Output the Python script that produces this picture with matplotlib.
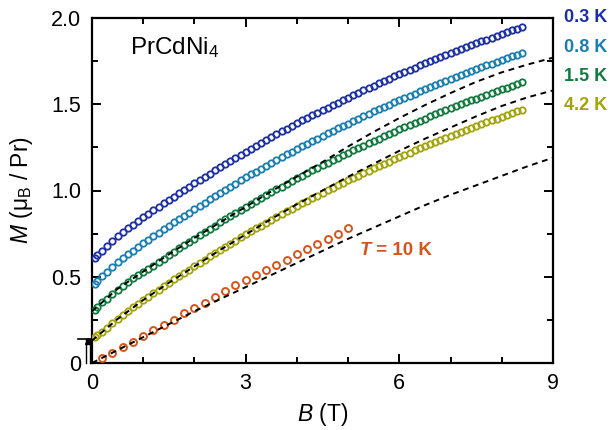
import matplotlib
matplotlib.use("Agg")
import matplotlib.pyplot as plt
from matplotlib.ticker import MultipleLocator

plt.rcParams['font.family'] = ['Liberation Sans', 'DejaVu Sans']
plt.rcParams['mathtext.fontset'] = 'custom'
plt.rcParams['mathtext.rm'] = 'Liberation Sans'
plt.rcParams['mathtext.it'] = 'Liberation Sans:italic'
plt.rcParams['mathtext.bf'] = 'Liberation Sans:bold'

# ---------------- data ----------------
field = [0.05, 0.1, 0.2, 0.3, 0.4, 0.5, 0.6, 0.7, 0.8, 0.9,
         1.0, 1.1, 1.2, 1.3, 1.4, 1.5, 1.6, 1.7, 1.8, 1.9,
         2.0, 2.1, 2.2, 2.3, 2.4, 2.5, 2.6, 2.7, 2.8, 2.9,
         3.0, 3.1, 3.2, 3.3, 3.4, 3.5, 3.6, 3.7, 3.8, 3.9,
         4.0, 4.1, 4.2, 4.3, 4.4, 4.5, 4.6, 4.7, 4.8, 4.9,
         5.0, 5.1, 5.2, 5.3, 5.4, 5.5, 5.6, 5.7, 5.8, 5.9,
         6.0, 6.1, 6.2, 6.3, 6.4, 6.5, 6.6, 6.7, 6.8, 6.9,
         7.0, 7.1, 7.2, 7.3, 7.4, 7.5, 7.6, 7.7, 7.8, 7.9,
         8.0, 8.1, 8.2, 8.3, 8.4]

m_03K = [0.610, 0.625, 0.652, 0.680, 0.708, 0.735, 0.758, 0.780, 0.802, 0.823,
         0.845, 0.865, 0.885, 0.905, 0.925, 0.945, 0.965, 0.984, 1.003, 1.022,
         1.041, 1.060, 1.079, 1.098, 1.117, 1.136, 1.154, 1.172, 1.190, 1.208,
         1.226, 1.243, 1.260, 1.277, 1.294, 1.311, 1.327, 1.343, 1.359, 1.375,
         1.391, 1.406, 1.421, 1.436, 1.451, 1.466, 1.481, 1.495, 1.510, 1.524,
         1.538, 1.552, 1.566, 1.580, 1.594, 1.608, 1.621, 1.635, 1.648, 1.661,
         1.674, 1.687, 1.700, 1.712, 1.725, 1.737, 1.749, 1.761, 1.773, 1.785,
         1.797, 1.808, 1.820, 1.831, 1.842, 1.853, 1.864, 1.875, 1.886, 1.896,
         1.907, 1.917, 1.928, 1.938, 1.948]

m_08K = [0.460, 0.475, 0.502, 0.530, 0.558, 0.585, 0.608, 0.630, 0.652, 0.673,
         0.695, 0.715, 0.735, 0.755, 0.775, 0.795, 0.815, 0.834, 0.853, 0.872,
         0.891, 0.910, 0.929, 0.948, 0.967, 0.986, 1.004, 1.022, 1.040, 1.058,
         1.076, 1.093, 1.110, 1.127, 1.144, 1.161, 1.177, 1.193, 1.209, 1.225,
         1.241, 1.256, 1.271, 1.286, 1.301, 1.316, 1.331, 1.345, 1.360, 1.374,
         1.388, 1.402, 1.416, 1.430, 1.444, 1.458, 1.471, 1.485, 1.498, 1.511,
         1.524, 1.537, 1.550, 1.562, 1.575, 1.587, 1.599, 1.611, 1.623, 1.635,
         1.647, 1.658, 1.670, 1.681, 1.692, 1.703, 1.714, 1.725, 1.736, 1.746,
         1.757, 1.767, 1.778, 1.788, 1.798]

m_15K = [0.310, 0.325, 0.352, 0.370, 0.398, 0.425, 0.448, 0.470, 0.492, 0.513,
         0.525, 0.545, 0.565, 0.585, 0.605, 0.625, 0.645, 0.664, 0.683, 0.702,
         0.721, 0.740, 0.759, 0.778, 0.797, 0.816, 0.834, 0.852, 0.870, 0.888,
         0.906, 0.923, 0.940, 0.957, 0.974, 0.991, 1.007, 1.023, 1.039, 1.055,
         1.071, 1.086, 1.101, 1.116, 1.131, 1.146, 1.161, 1.175, 1.190, 1.204,
         1.218, 1.232, 1.246, 1.260, 1.274, 1.288, 1.301, 1.315, 1.328, 1.341,
         1.354, 1.367, 1.380, 1.392, 1.405, 1.417, 1.429, 1.441, 1.453, 1.465,
         1.477, 1.488, 1.500, 1.511, 1.522, 1.533, 1.544, 1.555, 1.566, 1.576,
         1.587, 1.597, 1.608, 1.618, 1.628]

m_42K = [0.150, 0.160, 0.182, 0.205, 0.230, 0.255, 0.278, 0.300, 0.322, 0.343,
         0.365, 0.385, 0.405, 0.425, 0.445, 0.465, 0.485, 0.504, 0.523, 0.542,
         0.561, 0.580, 0.599, 0.618, 0.637, 0.656, 0.674, 0.692, 0.710, 0.728,
         0.746, 0.763, 0.780, 0.797, 0.814, 0.831, 0.847, 0.863, 0.879, 0.895,
         0.911, 0.926, 0.941, 0.956, 0.971, 0.986, 1.001, 1.015, 1.030, 1.044,
         1.058, 1.072, 1.086, 1.100, 1.114, 1.128, 1.141, 1.155, 1.168, 1.181,
         1.194, 1.207, 1.220, 1.232, 1.245, 1.257, 1.269, 1.281, 1.293, 1.305,
         1.317, 1.328, 1.340, 1.351, 1.362, 1.373, 1.384, 1.395, 1.406, 1.416,
         1.427, 1.437, 1.448, 1.458, 1.468]

field_10K = [0.2, 0.4, 0.6, 0.8, 1.0, 1.2, 1.4, 1.6, 1.8, 2.0,
             2.2, 2.4, 2.6, 2.8, 3.0, 3.2, 3.4, 3.6, 3.8, 4.0,
             4.2, 4.4, 4.6, 4.8, 5.0]
m_10K = [0.030, 0.060, 0.090, 0.120, 0.155, 0.190, 0.220, 0.250, 0.290, 0.320,
         0.350, 0.380, 0.420, 0.450, 0.480, 0.510, 0.540, 0.570, 0.600, 0.630,
         0.660, 0.690, 0.720, 0.750, 0.780]

fit_field = [0.0, 0.5, 1.0, 1.5, 2.0, 2.5, 3.0, 3.5, 4.0, 4.5,
             5.0, 5.5, 6.0, 6.5, 7.0, 7.5, 8.0, 8.5, 9.0]
fit_15K = [0.300, 0.430, 0.530, 0.630, 0.725, 0.815, 0.905, 0.995, 1.080, 1.165,
           1.255, 1.340, 1.420, 1.495, 1.565, 1.630, 1.685, 1.730, 1.770]
fit_42K = [0.130, 0.255, 0.365, 0.465, 0.560, 0.655, 0.745, 0.835, 0.920, 1.000,
           1.080, 1.155, 1.230, 1.300, 1.365, 1.430, 1.490, 1.540, 1.580]
fit_10K = [0.000, 0.075, 0.150, 0.225, 0.300, 0.370, 0.440, 0.510, 0.580, 0.650,
           0.720, 0.785, 0.850, 0.915, 0.975, 1.030, 1.085, 1.140, 1.190]

temp_labels = ['0.3 K', '0.8 K', '1.5 K', '4.2 K']
colors = ['#1c2fa3', '#1a7fb0', '#127a3f', '#a3a30a']
c_10K = '#d9541a'
offset_mark = 0.14

# ---------------- figure ----------------
fig = plt.figure(figsize=(6.1, 4.3), dpi=100)
ax = fig.add_axes([92 / 610, 1 - 363 / 430, (553 - 92) / 610, (363 - 18) / 430])

mk = dict(marker='o', ls='none', mfc='none', ms=4.6, mew=1.3)
for m, c in zip([m_03K, m_08K, m_15K, m_42K], colors):
    ax.plot(field, m, color=c, zorder=3, **mk)
ax.plot(field_10K, m_10K, color=c_10K, zorder=3,
        **dict(mk, ms=5.0, mew=1.4))

for fy in [fit_15K, fit_42K, fit_10K]:
    ax.plot(fit_field, fy, color='black', lw=1.4, ls=(0, (3.0, 2.4)), zorder=4)

ax.set_xlim(0, 9)
ax.set_ylim(0, 2.0)
ax.xaxis.set_major_locator(MultipleLocator(3))
ax.xaxis.set_minor_locator(MultipleLocator(1))
ax.yaxis.set_major_locator(MultipleLocator(0.5))
ax.yaxis.set_minor_locator(MultipleLocator(0.25))
ax.tick_params(which='both', direction='in', top=True, right=True, width=1.4,
               labelsize=15.5)
ax.tick_params(axis='y', which='both', pad=8)
ax.tick_params(axis='x', which='both', pad=7)
ax.tick_params(which='major', length=6.5)
ax.tick_params(which='minor', length=4)
ax.yaxis.set_major_formatter(matplotlib.ticker.FuncFormatter(
    lambda v, p: '0' if v == 0 else f'{v:.1f}'))
for s in ax.spines.values():
    s.set_linewidth(1.6)

ax.set_xlabel('$B$ (T)', fontsize=16.5, labelpad=5)
ax.set_ylabel('$M$ (μ$_\\mathrm{B}$ / Pr)', fontsize=16.5, labelpad=11)

ax.text(0.74, 1.83, 'PrCdNi$_4$', fontsize=17.5, va='center', ha='left')

ypos = [2.005, 1.83, 1.66, 1.49]
for lab, c, yv in zip(temp_labels, colors, ypos):
    ax.text(9.22, yv, lab, color=c, fontsize=13, fontweight='bold',
            va='center', ha='left', clip_on=False)

t1 = ax.text(5.23, 0.655, 'T', color=c_10K, fontsize=13.5, fontweight='bold',
             style='italic', va='center', ha='left')
ax.annotate(' = 10 K', xy=(1, 0), xycoords=t1, color=c_10K, fontsize=13.5,
            fontweight='bold', va='bottom', ha='left')

# offset marker at the lower left
ax.plot([-0.27, 0.0], [offset_mark, offset_mark], color='black', lw=1.2, clip_on=False)
ax.plot([-0.12, -0.12], [0, offset_mark], color='black', lw=1.0, clip_on=False)
ax.plot([-0.03, -0.03], [0, offset_mark], color='black', lw=1.0, clip_on=False)
ax.plot([-0.075], [offset_mark - 0.015], marker='^', color='black', ms=4, clip_on=False)

fig.savefig('out.png', dpi=100)
